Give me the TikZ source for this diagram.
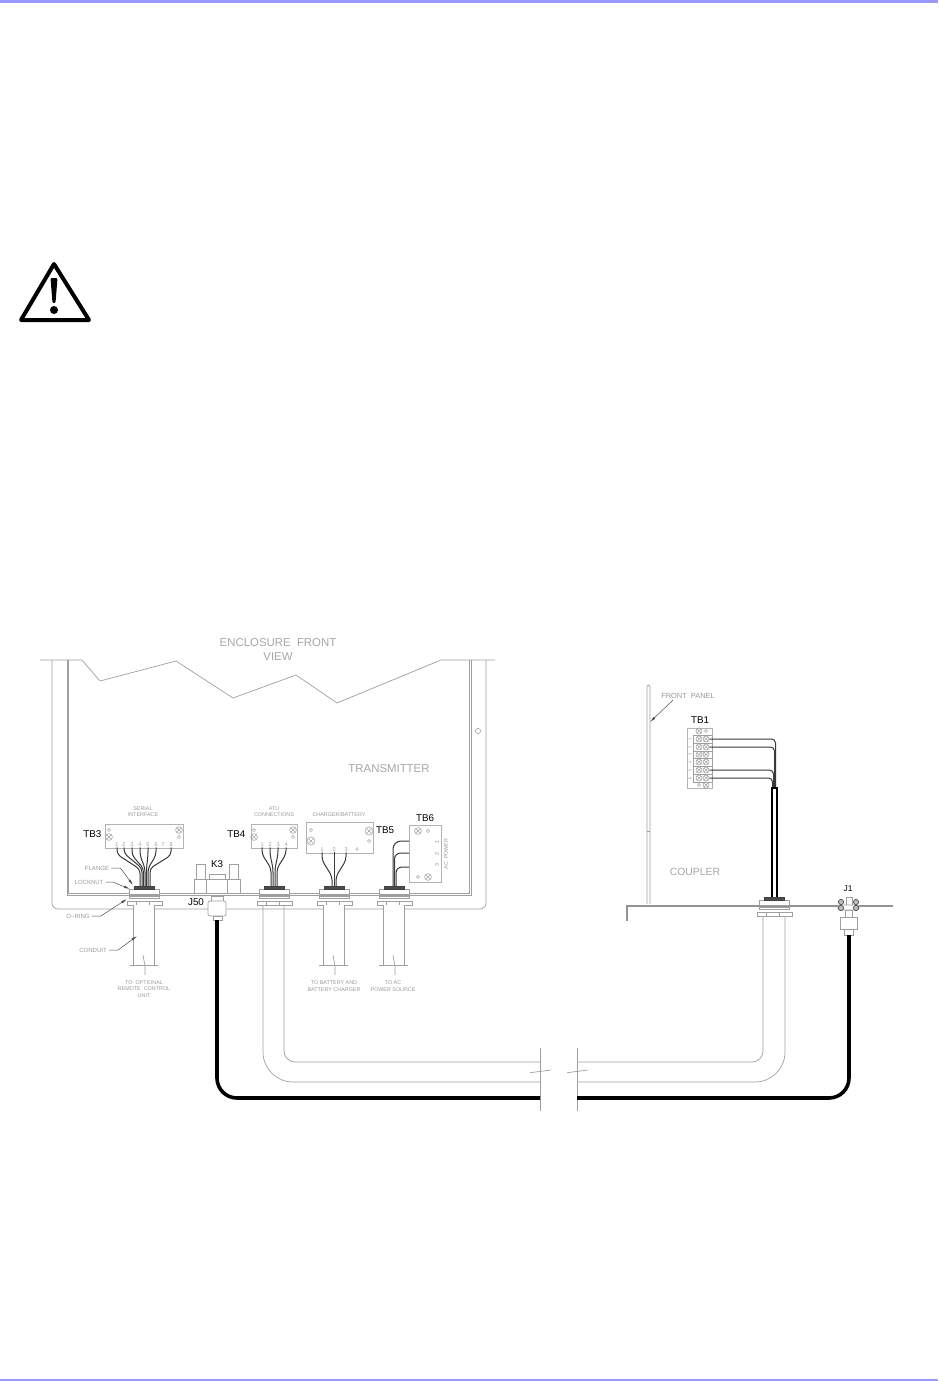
\documentclass[tikz,border=0pt]{standalone}
\usepackage{fontspec}
\setmainfont{Liberation Sans}
\usetikzlibrary{positioning, calc, arrows.meta}
\definecolor{mybar}{rgb}{.6, .6, 1}
\tikzset{line/.style={draw=gray!75,line width=.35pt}}
\tikzset{part/.style={line,fill=white}}
\tikzset{wire/.style={draw=gray!45!black,line width=.5pt,rounded corners=2pt}}
\tikzset{cable/.style={draw=black,line width=1.8pt,rounded corners=10pt}}
\tikzset{leader/.style={draw=black!70,line width=.25pt,-{Latex[length=3pt,width=1.3pt]}}}
\tikzset{tiny/.style={text=gray!80,inner sep=0pt,font=\fontsize{2.7}{3}\selectfont,align=center}}
\tikzset{small/.style={text=gray!80,inner sep=0pt,font=\fontsize{3}{3.1}\selectfont,align=center}}
\tikzset{title/.style={text=gray!70,inner sep=0pt,font=\fontsize{5.7}{7}\selectfont,align=center}}
\tikzset{tag/.style={text=black,inner sep=0pt,font=\fontsize{4.9}{5}\selectfont}}
\tikzset{strip/.style={draw=gray!60,fill=white,line width=.35pt,inner sep=0pt}}
\tikzset{hole/.style={circle,draw=gray!75,line width=.25pt,inner sep=0pt,minimum size=1.6pt}}
\tikzset{screw/.style={circle,draw=gray!70,line width=.3pt,inner sep=0pt,minimum size=3.4pt,
  path picture={\draw[gray!70,line width=.25pt] (path picture bounding box.south west) -- (path picture bounding box.north east)
  (path picture bounding box.north west) -- (path picture bounding box.south east);}}}
\tikzset{bolt/.style={circle,draw=black!70,fill=gray!50,line width=.35pt,inner sep=0pt,minimum size=2.6pt}}
% Fitting through the enclosure floor
\newcommand{\gland}[2]{
  \begin{scope}[shift={(#1,#2)}]
    \path[part] (-15,3) rectangle (15,8);
    \path[part] (-15,10) rectangle (15,12);
    \path[part] (-17,15) rectangle (18,19);
    \path[part] (-8,15) rectangle (5,19);
    \path[draw=gray!50!black,fill=gray!60!black,line width=.2pt] (-10,0) rectangle (10,3);
  \end{scope}
}
\begin{document}
\begin{tikzpicture}[x=.5pt,y=-.5pt]
\useasboundingbox (0,0) rectangle (938,1381);

% Page bars
\fill[mybar] (0,0) rectangle (938,3);
\fill[mybar] (0,1379) rectangle (938,1381);

% Warning sign
\path[draw,line width=2pt,line join=round] (54,264) -- (89,320) -- (21,320) -- cycle;
\fill[rounded corners=.6pt] (50.5,278) -- (57.5,278) -- (55.5,303) -- (52.5,303) -- cycle;
\fill (54,310) circle (2pt);

% Enclosure
\node[title] (front) at (278,650) {ENCLOSURE\ \ FRONT\\VIEW};
\node[title] (transmitter) at (389,769) {TRANSMITTER};
\path[line] (40,660) -- (82,660) -- (100,681) -- (176,661) -- (233,698) -- (296,675) -- (337,703) -- (441,660) -- (495,660);
\path[line,rounded corners=3pt] (52,660) -- (52,909) -- (486,909) -- (486,660);
\path[line] (67,660) -- (67,895) -- (471,895) -- (471,660);
\path[line] (68.5,660) -- (68.5,893.5) -- (469.5,893.5) -- (469.5,660);
\node[hole,minimum size=2.6pt] (h0) at (478,731) {};

% Terminal strip TB3
\node[tiny] (serial) at (143,812) {SERIAL\\INTERFACE};
\node[strip,minimum width=39pt,minimum height=12pt] (tb3) at (144,836) {};
\node[tag,left=1.5pt of tb3,yshift=1pt] (lb3) {TB3};
\node[screw] (s31) at (109,837) {};
\node[screw] (s32) at (179,830) {};
\node[hole] (h31) at (109,830) {};
\node[hole] (h32) at (179,837) {};
\node[tiny] (t31) at (117,845) {1};
\node[tiny] (t32) at (124,845) {2};
\node[tiny] (t33) at (132,845) {3};
\node[tiny] (t34) at (140,845) {4};
\node[tiny] (t35) at (148,845) {5};
\node[tiny] (t36) at (156,845) {6};
\node[tiny] (t37) at (163,845) {7};
\node[tiny] (t38) at (171,845) {8};
\path[wire] (t31.south) -- ++(0,7) -- ++(23,15) -- ++(0,18);
\path[wire] (t32.south) -- ++(0,6) -- ++(18,15) -- ++(0,19);
\path[wire] (t33.south) -- ++(0,8) -- ++(11.5,13) -- ++(0,19);
\path[wire] (t34.south) -- ++(0,8) -- ++(5,13) -- ++(0,19);
\path[wire] (t35.south) -- ++(0,8) -- ++(-1.5,13) -- ++(0,19);
\path[wire] (t36.south) -- ++(0,8) -- ++(-8,13) -- ++(0,19);
\path[wire] (t38.south) -- ++(0,8) -- ++(-21,13) -- ++(0,19);
\gland{144}{886}

% Conduit under TB3
\path[part,draw=none] (133,905) rectangle (154,965);
\path[line] (133,905) -- (133,965);
\path[line] (154,905) -- (154,965);
\path[line] (130,965) -- (158,965);
\path[line] (143,955) -- (145,966) -- (145,975);
\node[tiny] (optional) at (144,989) {TO\ \ OPTIONAL\\[.4pt]REMOTE\ \ CONTROL\\[.4pt]UNIT};

% Callouts on the first fitting
\node[small] (flange) at (97,868) {FLANGE};
\node[small] (locknut) at (89,882) {LOCKNUT};
\node[small] (oring) at (78,916) {O--RING};
\node[small] (conduit) at (93,950) {CONDUIT};
\coordinate (aflange) at (133,885);
\coordinate (alocknut) at (130,889);
\coordinate (aoring) at (127,899);
\coordinate (aconduit) at (137,936);
\path[leader] (flange.east) ++(2,0) -- ++(9,0) -- (aflange);
\path[leader] (locknut.east) ++(2,0) -- ++(7,0) -- (alocknut);
\path[leader] (oring.east) ++(2,0) -- ++(9,0) -- (aoring);
\path[leader] (conduit.east) ++(2,0) -- ++(9,0) -- (aconduit);

% Relay K3 and connector J50
\node[tag] (k3) at (217,864) {K3};
\path[part] (196,864) rectangle (205,879);
\path[part] (229,864) rectangle (238,879);
\path[part] (209,874) rectangle (225,879);
\path[part] (194,879) rectangle (240,893);
\path[part] (206,879) rectangle (227,893);
\node[tag] (j50) at (196,902) {J50};
\path[part] (211,896) rectangle (223,901);
\path[part,rounded corners=1pt] (208,901) rectangle (226,916);
\path[part] (213,916) rectangle (222,920);
\coordinate (j50end) at (217,920);

% Terminal strip TB4
\node[tiny] (atu) at (274,812) {ATU\\CONNECTIONS};
\node[strip,minimum width=23pt,minimum height=12pt] (tb4) at (274,836) {};
\node[tag,left=2.5pt of tb4,yshift=1pt] (lb4) {TB4};
\node[screw] (s41) at (254,837) {};
\node[screw] (s42) at (293,830) {};
\node[hole] (h41) at (254,830) {};
\node[hole] (h42) at (293,837) {};
\node[tiny] (t41) at (262,845) {1};
\node[tiny] (t42) at (270,845) {2};
\node[tiny] (t43) at (278,845) {3};
\node[tiny] (t44) at (286,845) {4};
\path[wire] (t41.south) -- ++(0,7) -- ++(9,14) -- ++(0,18);
\path[wire] (t42.south) -- ++(0,7) -- ++(3,14) -- ++(0,18);
\path[wire] (t43.south) -- ++(0,7) -- ++(-3,14) -- ++(0,18);
\path[wire] (t44.south) -- ++(0,7) -- ++(-9,14) -- ++(0,18);
\gland{274}{886}

% Terminal strip TB5
\node[tiny] (charger) at (339,815) {CHARGER/BATTERY};
\node[strip,minimum width=33.5pt,minimum height=15.5pt] (tb5) at (339.5,837.5) {};
\node[tag] (lb5) at (385,830) {TB5};
\node[screw,minimum size=4pt] (s51) at (311,841) {};
\node[screw,minimum size=4pt] (s52) at (369,831) {};
\node[hole] (h51) at (311,830) {};
\node[hole] (h52) at (369,841) {};
\node[tiny] (t51) at (322,850) {1};
\node[tiny] (t52) at (334,850) {2};
\node[tiny] (t53) at (346,850) {3};
\node[tiny] (t54) at (357,850) {4};
\path[wire] (t51.south) -- ++(0,8) -- ++(10,16) -- ++(0,10);
\path[wire] (t52.south) -- ++(0,34);
\path[wire] (t53.south) -- ++(0,8) -- ++(-10,16) -- ++(0,10);
\gland{334}{886}

% Terminal strip TB6
\node[strip,minimum width=16pt,minimum height=28.5pt] (tb6) at (425,853.5) {};
\node[tag,above=1.5pt of tb6] (lb6) {TB6};
\node[screw] (s61) at (418,831) {};
\node[screw] (s62) at (428,877) {};
\node[hole] (h61) at (428,831) {};
\node[hole] (h62) at (418,877) {};
\node[tiny,rotate=90] (t61) at (437,842) {1};
\node[tiny,rotate=90] (t62) at (437,854) {2};
\node[tiny,rotate=90] (t63) at (437,865) {3};
\node[tiny,rotate=90] (acpower) at (446,854) {AC\ \ POWER};
\path[wire,rounded corners=4pt] (409,841) -- (393,841) -- (393,886);
\path[wire,rounded corners=3pt] (409,853) -- (394.5,853) -- (394.5,886);
\path[wire,rounded corners=3pt] (409,867) -- (396,867) -- (396,886);
\gland{394}{886}

% Short conduits
\path[part,draw=none] (323,905) rectangle (344,965);
\path[line] (323,905) -- (323,965);
\path[line] (344,905) -- (344,965);
\path[line] (319,965) -- (348,965);
\path[line] (333,955) -- (335,966) -- (335,975);
\node[tiny] (battery) at (334,986) {TO\ BATTERY\ AND\\[.4pt]BATTERY\ CHARGER};
\path[part,draw=none] (383,905) rectangle (404,965);
\path[line] (383,905) -- (383,965);
\path[line] (404,905) -- (404,965);
\path[line] (379,965) -- (408,965);
\path[line] (393,955) -- (395,966) -- (395,975);
\node[tiny] (acsource) at (393,986) {TO\ AC\\[.4pt]POWER\ SOURCE};

% Coupler panel
\path[line,rounded corners=.7pt] (647,904) -- (647,685) -- (650,685) -- (650,904);
\path[line] (647,831) -- (650,831);
\path[draw=gray!85,line width=1pt,dash pattern=on .3pt off .15pt] (626,905.5) -- (893,905.5);
\path[draw=gray!85,line width=1pt,dash pattern=on .3pt off .15pt] (626.5,905.5) -- (626.5,920);
\node[small,font=\fontsize{3.7}{4}\selectfont] (panel) at (688,696) {FRONT\ \ PANEL};
\coordinate (apanel) at (650,722);
\path[leader] (673,700) -- (apanel);
\node[title,font=\fontsize{5.2}{6}\selectfont] (coupler) at (695,872) {COUPLER};

% Terminal strip TB1
\node[tag] (lb1) at (700,720) {TB1};
\node[strip,minimum width=12.5pt,minimum height=30pt] (tb1) at (699.5,758) {};
\path[line] (693,735) rectangle (712,743);
\path[line] (693,743) rectangle (712,751);
\path[line] (693,751) rectangle (712,758);
\path[line] (693,758) rectangle (712,766);
\path[line] (693,766) rectangle (712,774);
\path[line] (693,774) rectangle (712,782);
\node[screw,minimum size=3pt] (s10) at (699,731) {};
\node[hole] (h10) at (706,731) {};
\node[screw,minimum size=3pt] (s11) at (699,739) {};
\node[screw,minimum size=3pt] (c11) at (706,739) {};
\node[screw,minimum size=3pt] (s12) at (699,747) {};
\node[screw,minimum size=3pt] (c12) at (706,747) {};
\node[screw,minimum size=3pt] (s13) at (699,754.5) {};
\node[screw,minimum size=3pt] (c13) at (706,754.5) {};
\node[screw,minimum size=3pt] (s14) at (699,762) {};
\node[screw,minimum size=3pt] (c14) at (706,762) {};
\node[screw,minimum size=3pt] (s15) at (699,770) {};
\node[screw,minimum size=3pt] (c15) at (706,770) {};
\node[screw,minimum size=3pt] (s16) at (699,778) {};
\node[screw,minimum size=3pt] (c16) at (706,778) {};
\node[hole] (h17) at (699,785) {};
\node[screw,minimum size=3pt] (c17) at (706,785) {};
\node[tiny,rotate=90,font=\fontsize{2}{2}\selectfont] (n1) at (690,739) {1};
\node[tiny,rotate=90,font=\fontsize{2}{2}\selectfont] (n2) at (690,747) {2};
\node[tiny,rotate=90,font=\fontsize{2}{2}\selectfont] (n3) at (690,754.5) {3};
\node[tiny,rotate=90,font=\fontsize{2}{2}\selectfont] (n4) at (690,762) {4};
\node[tiny,rotate=90,font=\fontsize{2}{2}\selectfont] (n5) at (690,770) {5};
\node[tiny,rotate=90,font=\fontsize{2}{2}\selectfont] (n6) at (690,778) {6};

% Wires from TB1 and the pipe below
\path[wire] (c11.east) -- (775.5,739) -- (775.5,788);
\path[wire] (c12.east) -- (774.5,747) -- (774.5,788);
\path[wire] (c15.east) -- (773.5,770) -- (773.5,788);
\path[wire] (c16.east) -- (772.5,778) -- (772.5,788);
\path[draw=black,line width=.65pt] (772,897) -- (772,788) -- (777,788) -- (777,897);
\gland{774}{897}

% Connector J1
\node[tag,font=\fontsize{4.2}{5}\selectfont] (j1) at (848,889) {J1};
\path[part] (846,897) rectangle (852,905);
\path[part] (845,910) rectangle (852,917);
\path[part,rounded corners=1pt] (838,905) rectangle (859,910);
\node[bolt] (n11) at (841,902) {};
\node[bolt] (n12) at (856,902) {};
\node[bolt] (n13) at (841,908) {};
\node[bolt] (n14) at (856,908) {};
\path[part] (840,917) rectangle (857,929);
\path[part] (844,929) rectangle (853,935);
\coordinate (j1end) at (849,935);

% Long conduit, broken in the middle
\coordinate (condl) at (263,905);
\coordinate (condil) at (284,905);
\coordinate (condr) at (785,916);
\coordinate (condir) at (763,916);
\coordinate (breakl) at (540,1048);
\coordinate (breakr) at (577,1048);
\path[line,rounded corners=15pt] (condl) -- (263,1082) -- (540,1082);
\path[line,rounded corners=5.5pt] (condil) -- (284,1062) -- (540,1062);
\path[line,rounded corners=15pt] (condr) -- (785,1082) -- (577,1082);
\path[line,rounded corners=5.5pt] (condir) -- (763,1062) -- (577,1062);
\path[line] (breakl) -- ++(0,63);
\path[line] (breakr) -- ++(0,63);
\path[line] (530,1072.7) -- (551,1070);
\path[line] (567,1072.7) -- (588,1070);

% Cable from J50 to J1
\path[cable] (j50end) -- (217,1098) -- (540,1098);
\path[cable] (j1end) -- (849,1098) -- (577,1098);

\end{tikzpicture}
\end{document}
